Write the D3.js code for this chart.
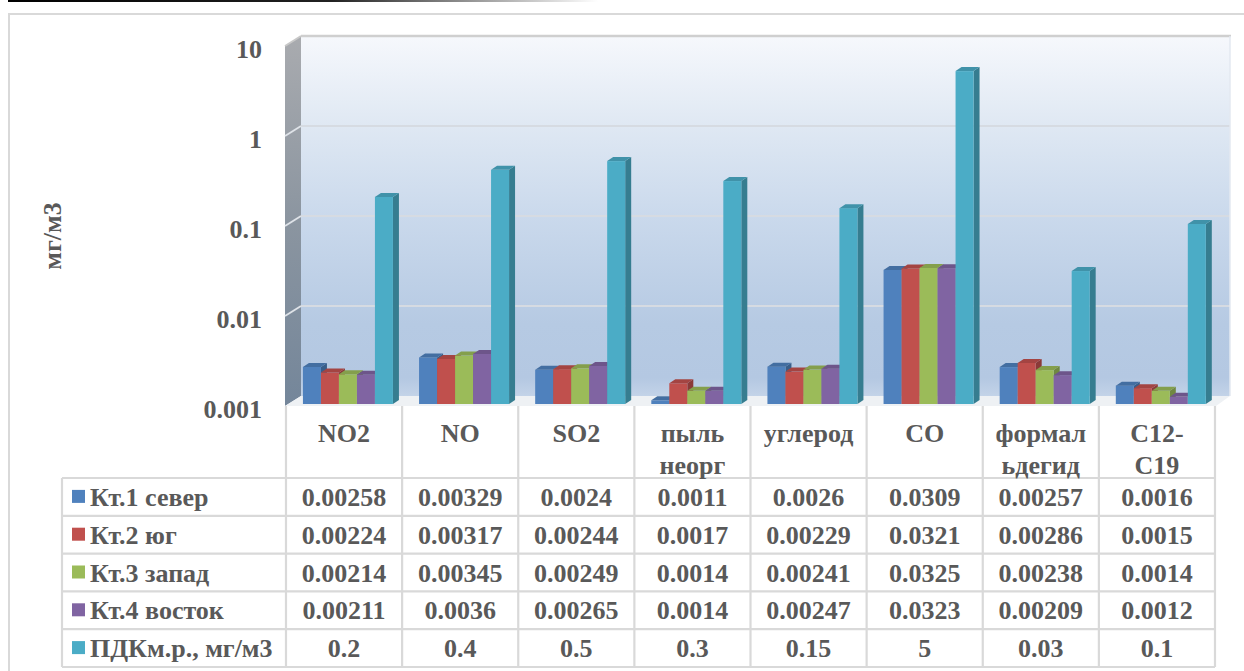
<!DOCTYPE html>
<html>
<head>
<meta charset="utf-8">
<script src="https://cdn.jsdelivr.net/npm/d3@7"></script>
</head>
<body style="margin:0">
<svg id="chart" width="1244" height="671" style="display:block"></svg>
<script>
// Pollutant categories (line breaks as they appear in the table header)
const categories = ["NO2", "NO", "SO2", "пыль\nнеорг", "углерод", "CO", "формал\nьдегид", "C12-\nC19"];
const seriesNames = ["Кт.1 север", "Кт.2 юг", "Кт.3 запад", "Кт.4 восток", "ПДКм.р., мг/м3"];
const seriesColors = ["#4f81bd", "#c0504d", "#9bbb59", "#8064a2", "#4bacc6"];

// Measured concentrations, mg/m3, at each observation point
const north = [0.00258, 0.00329, 0.0024, 0.0011, 0.0026, 0.0309, 0.00257, 0.0016];
const south = [0.00224, 0.00317, 0.00244, 0.0017, 0.00229, 0.0321, 0.00286, 0.0015];
const west  = [0.00214, 0.00345, 0.00249, 0.0014, 0.00241, 0.0325, 0.00238, 0.0014];
const east  = [0.00211, 0.0036, 0.00265, 0.0014, 0.00247, 0.0323, 0.00209, 0.0012];
// Maximum one-time permissible concentration
const pdk   = [0.2, 0.4, 0.5, 0.3, 0.15, 5, 0.03, 0.1];

const yTicks = [0.001, 0.01, 0.1, 1, 10];
const yTitle = "мг/м3";

const series = [north, south, west, east, pdk];
const textColor = "#595959";

const svg = d3.select("#chart");
const defs = svg.append("defs");

// shared text styling
function styled(sel, size) {
  return sel.style("font-family", '"Liberation Serif"')
    .attr("font-weight", "bold")
    .attr("font-size", size)
    .attr("fill", textColor);
}

// ---- geometry ----
const tableLeft = 62;
const plotLeft = 286, plotRight = 1215;
const depth = { dx: 15, dy: -10 };      // front floor edge -> back wall
const barShift = { dx: 3, dy: -2 };     // front floor edge -> bar plane
const barDepth = { dx: 6, dy: -4 };     // depth of each 3-D bar

const x = d3.scaleBand().domain(categories).range([plotLeft, plotRight]).padding(0);
const yFront = d3.scaleLog().domain([0.001, 10]).range([406, 46]);
const inner = d3.scaleBand().domain(d3.range(series.length))
  .range([x.bandwidth() * 0.12, x.bandwidth() * 0.895]).padding(0);

// ---- frame ----
const topLine = defs.append("linearGradient").attr("id", "topLine").attr("x1", 0).attr("x2", 1);
topLine.append("stop").attr("offset", 0).attr("stop-color", "#000");
topLine.append("stop").attr("offset", 0.55).attr("stop-color", "#222");
topLine.append("stop").attr("offset", 1).attr("stop-color", "#fff");
svg.append("rect").attr("x", 8).attr("y", 0).attr("width", 590).attr("height", 2).attr("fill", "url(#topLine)");

svg.append("rect").attr("x", 9).attr("y", 14).attr("width", 1260).attr("height", 700)
  .attr("fill", "#fff").attr("stroke", "#d9d9d9").attr("stroke-width", 2);

// ---- back wall ----
const wallGrad = defs.append("linearGradient").attr("id", "wallGrad").attr("x1", 0).attr("y1", 0).attr("x2", 0).attr("y2", 1);
[[0, "#f6f8fc"], [0.25, "#dfe8f3"], [0.5, "#cad9ec"], [0.8, "#b6cae3"], [0.95, "#b4c8e2"], [1, "#c3d3e8"]]
  .forEach(([o, c]) => wallGrad.append("stop").attr("offset", o).attr("stop-color", c));

const backTop = yFront(10) + depth.dy, backBottom = yFront(0.001) + depth.dy;
const backLeft = plotLeft + depth.dx, backRight = plotRight + depth.dx;
svg.append("rect").attr("x", backLeft).attr("y", backTop)
  .attr("width", backRight - backLeft).attr("height", backBottom - backTop)
  .attr("fill", "url(#wallGrad)");

// ---- side wall ----
const sideGrad = defs.append("linearGradient").attr("id", "sideGrad").attr("x1", 0).attr("y1", 0).attr("x2", 0).attr("y2", 1);
[[0, "#a9abaf"], [0.5, "#8b95a0"], [1, "#74869a"]]
  .forEach(([o, c]) => sideGrad.append("stop").attr("offset", o).attr("stop-color", c));
svg.append("path")
  .attr("d", `M${plotLeft - 1},${yFront(10)} L${backLeft},${backTop} L${backLeft},${backBottom} L${plotLeft - 1},${yFront(0.001)} Z`)
  .attr("fill", "url(#sideGrad)");

// ---- floor ----
svg.append("path")
  .attr("d", `M${plotLeft - 1},${yFront(0.001)} L${backLeft},${backBottom} L${backRight},${backBottom} L${plotRight + 1},${yFront(0.001)} Z`)
  .attr("fill", "#eef1f4");

// ---- gridlines on the back and side walls ----
const grid = svg.append("g");
yTicks.forEach(t => {
  const yb = yFront(t) + depth.dy;
  if (t === 10) {
    grid.append("line").attr("x1", backLeft).attr("x2", backRight + 1).attr("y1", yb).attr("y2", yb)
      .attr("stroke", "#cfcfcf").attr("stroke-width", 2.5);
    grid.append("line").attr("x1", plotLeft - 1).attr("y1", yFront(t)).attr("x2", backLeft).attr("y2", yb)
      .attr("stroke", "#c8c8c8").attr("stroke-width", 2);
  } else if (t !== 0.001) {
    grid.append("line").attr("x1", backLeft).attr("x2", backRight).attr("y1", yb).attr("y2", yb)
      .attr("stroke", "#d6dbe2").attr("stroke-width", 1.8);
    grid.append("line").attr("x1", plotLeft - 1).attr("y1", yFront(t)).attr("x2", backLeft).attr("y2", yb)
      .attr("stroke", "#dfe3e8").attr("stroke-width", 1.8);
  }
});
grid.append("line").attr("x1", backRight).attr("x2", backRight).attr("y1", backTop).attr("y2", backBottom)
  .attr("stroke", "#e3e9f1").attr("stroke-width", 1.5);

// ---- y tick labels ----
styled(svg.append("g").selectAll("text").data(yTicks).join("text"), 26)
  .attr("x", 262).attr("y", d => yFront(d) + 12)
  .attr("text-anchor", "end")
  .text(d => d3.format("~g")(d));

// ---- y axis title ----
styled(svg.append("text"), 26)
  .attr("transform", "translate(61,236) rotate(-90)")
  .attr("text-anchor", "middle")
  .text(yTitle);

// ---- 3-D bars ----
const bars = svg.append("g");
categories.forEach((cat, ci) => {
  series.forEach((vals, si) => {
    const v = vals[ci];
    const color = d3.color(seriesColors[si]);
    const x0 = x(cat) + inner(si) + barShift.dx;
    const w = inner.bandwidth();
    const yTop = yFront(v) + barShift.dy;
    const yBot = yFront(0.001) + barShift.dy;
    const g = bars.append("g");
    // right side face
    g.append("path")
      .attr("d", `M${x0 + w},${yTop} L${x0 + w + barDepth.dx},${yTop + barDepth.dy} L${x0 + w + barDepth.dx},${yBot + barDepth.dy} L${x0 + w},${yBot} Z`)
      .attr("fill", color.darker(0.9));
    // front face
    g.append("rect").attr("x", x0).attr("y", yTop).attr("width", w).attr("height", yBot - yTop)
      .attr("fill", color);
    // top face
    g.append("path")
      .attr("d", `M${x0},${yTop} L${x0 + barDepth.dx},${yTop + barDepth.dy} L${x0 + w + barDepth.dx},${yTop + barDepth.dy} L${x0 + w},${yTop} Z`)
      .attr("fill", color.darker(0.45));
  });
});

// ---- data table ----
const headerTop = yFront(0.001);
const headerBottom = 478;
const rowH = 37.8;
const table = svg.append("g");
const lineColor = "#d9d9d9";

// vertical column borders
x.domain().concat([null]).forEach(c => {
  const xx = c === null ? plotRight : x(c);
  table.append("line").attr("x1", xx).attr("x2", xx)
    .attr("y1", headerTop).attr("y2", headerBottom + rowH * series.length)
    .attr("stroke", lineColor).attr("stroke-width", 2.2);
});
table.append("line").attr("x1", tableLeft).attr("x2", tableLeft)
  .attr("y1", headerBottom).attr("y2", headerBottom + rowH * series.length)
  .attr("stroke", lineColor).attr("stroke-width", 2.2);
// horizontal row borders
d3.range(series.length + 1).forEach(r => {
  const yy = headerBottom + r * rowH;
  table.append("line").attr("x1", tableLeft).attr("x2", plotRight)
    .attr("y1", yy).attr("y2", yy)
    .attr("stroke", lineColor).attr("stroke-width", 2.2);
});

// category header labels
categories.forEach(cat => {
  const lines = cat.split("\n");
  const cx = x(cat) + x.bandwidth() / 2;
  const t = styled(table.append("text"), 26)
    .attr("x", cx).attr("y", 442)
    .attr("text-anchor", "middle");
  lines.forEach((ln, i) => {
    t.append("tspan").attr("x", cx).attr("dy", i === 0 ? 0 : 32).text(ln);
  });
});

// legend keys, series names and values
series.forEach((vals, si) => {
  const yc = headerBottom + rowH * si + rowH / 2;
  table.append("rect").attr("x", 72).attr("y", yc - 7).attr("width", 13).attr("height", 13)
    .attr("fill", seriesColors[si]);
  styled(table.append("text"), 26).attr("x", 90).attr("y", yc + 9)
    .text(seriesNames[si]);
  vals.forEach((v, ci) => {
    styled(table.append("text"), 26)
      .attr("x", x(categories[ci]) + x.bandwidth() / 2).attr("y", yc + 9)
      .attr("text-anchor", "middle")
      .text(String(v));
  });
});
</script>
</body>
</html>
